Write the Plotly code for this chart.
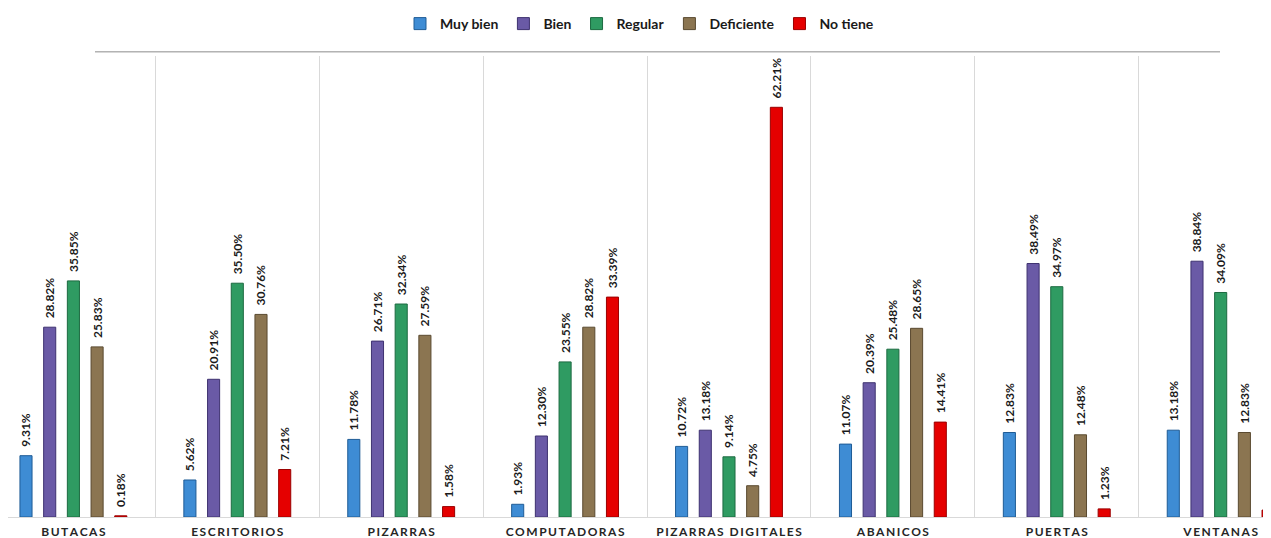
import plotly.graph_objects as go

categories = ["BUTACAS", "ESCRITORIOS", "PIZARRAS", "COMPUTADORAS",
              "PIZARRAS DIGITALES", "ABANICOS", "PUERTAS", "VENTANAS"]
series_names = ["Muy bien", "Bien", "Regular", "Deficiente", "No tiene"]
muy_bien = [9.31, 5.62, 11.78, 1.93, 10.72, 11.07, 12.83, 13.18]
bien = [28.82, 20.91, 26.71, 12.30, 13.18, 20.39, 38.49, 38.84]
regular = [35.85, 35.50, 32.34, 23.55, 9.14, 25.48, 34.97, 34.09]
deficiente = [25.83, 30.76, 27.59, 28.82, 4.75, 28.65, 12.48, 12.83]
no_tiene = [0.18, 7.21, 1.58, 33.39, 62.21, 14.41, 1.23, 1.05]

colors = ["#3E8CD4", "#6A5AA6", "#2F9B62", "#8B7551", "#E50000"]
edge_colors = ["#1F5C96", "#3E3270", "#1C6A40", "#5A4A30", "#9A0000"]

series_values = [muy_bien, bien, regular, deficiente, no_tiene]

tick_text = ["\u2009".join(list(c)) for c in categories]

# the page body adds an 8px margin; the figure is sized to fill the rest
W, H = 1263, 530

fig = go.Figure()
for name, vals, col, ecol in zip(series_names, series_values, colors, edge_colors):
    fig.add_trace(go.Bar(
        name=name,
        x=categories,
        y=vals,
        marker=dict(color=col, line=dict(color=ecol, width=1)),
        texttemplate="\u00a0\u00a0%{y:.2f}%",
        textposition="outside",
        textangle=-90,
        constraintext="none",
        cliponaxis=False,
        textfont=dict(family="Lato", size=12, color="#1a1a1a", weight="bold"),
    ))

fig.update_layout(
    width=W,
    height=H,
    margin=dict(l=0, r=0, t=48, b=21),
    paper_bgcolor="white",
    plot_bgcolor="white",
    barmode="group",
    bargap=0.277,
    bargroupgap=0.49,
    font=dict(family="Lato", color="#1a1a1a"),
    legend=dict(
        orientation="h",
        x=0.5, xanchor="center",
        y=1.0, yanchor="top",
        yref="container",
        font=dict(family="Lato", size=14, color="#1a1a1a", weight="bold"),
        itemwidth=30,
        traceorder="normal",
    ),
    showlegend=True,
)

fig.update_xaxes(
    type="category",
    range=[-0.399, 7.307],
    tickmode="array",
    tickvals=categories,
    ticktext=tick_text,
    tickfont=dict(family="Lato", size=12, color="#262626", weight="bold"),
    ticklabelstandoff=4,
    showgrid=True,
    gridcolor="#d9d9d9",
    gridwidth=1,
    tickson="boundaries",
    ticks="",
    showline=True,
    linecolor="#d9d9d9",
    linewidth=1,
    zeroline=False,
    automargin=False,
)
fig.update_yaxes(
    range=[0, 70],
    visible=False,
    showgrid=False,
    zeroline=False,
)

fig.add_shape(type="line", xref="paper", yref="paper",
              x0=87 / W, x1=1212 / W, y0=1.009, y1=1.009,
              line=dict(color="#8c8c8c", width=1))

fig.write_html("out.html")
